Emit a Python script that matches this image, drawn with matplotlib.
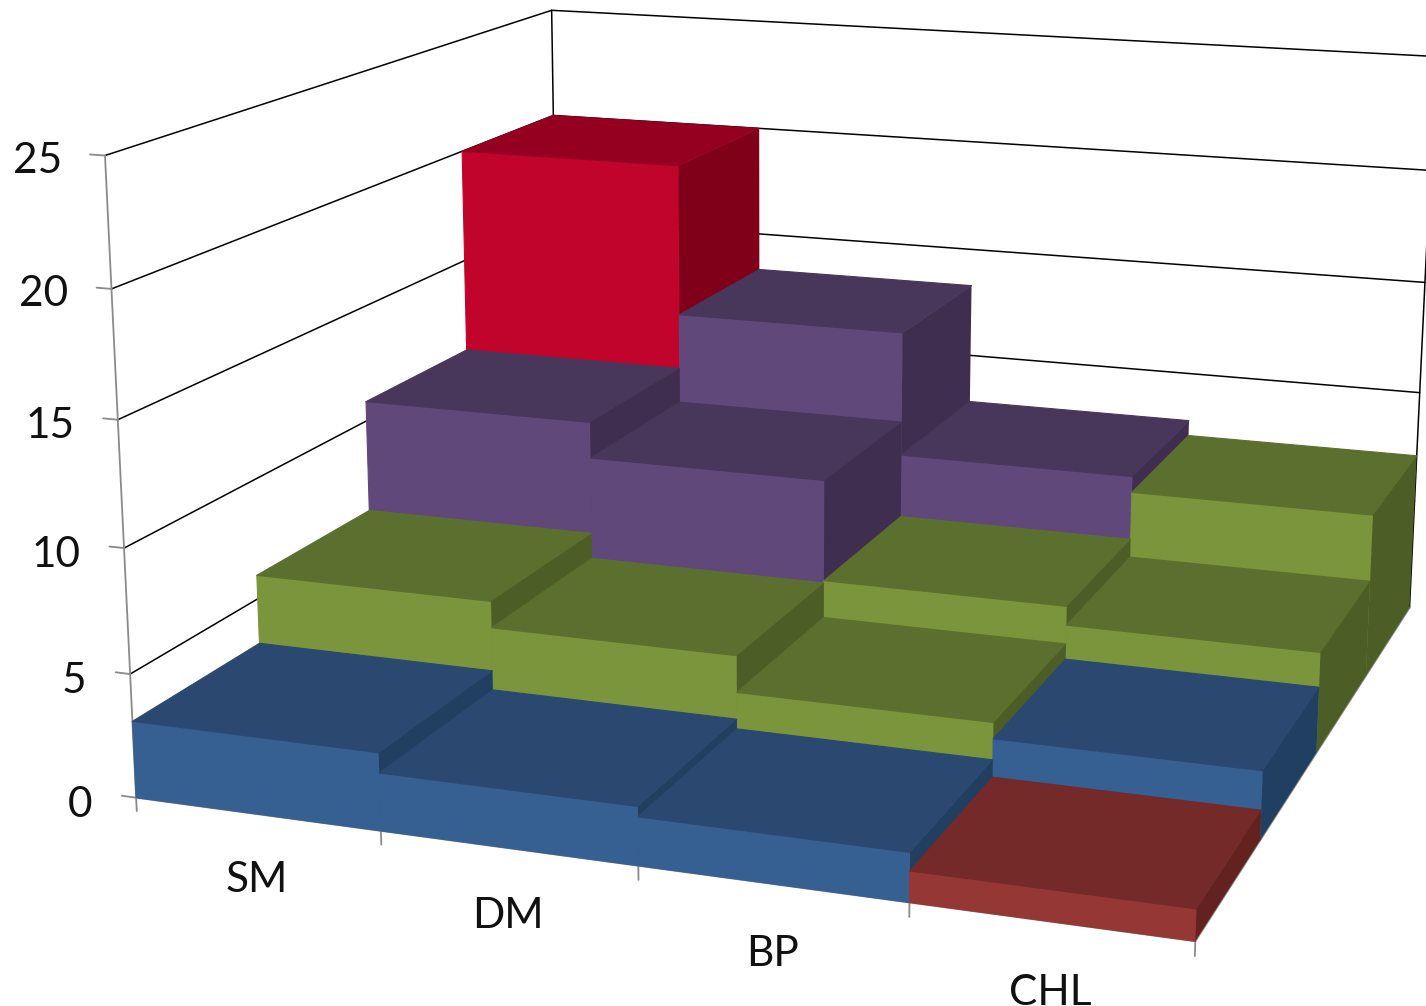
import numpy as np
import matplotlib
matplotlib.use('Agg')
import matplotlib.pyplot as plt
from mpl_toolkits.mplot3d import proj3d

W, H = 1426, 1006

categories = ['SM', 'DM', 'BP', 'CHL']
z_ticks = [0, 5, 10, 15, 20, 25]

# rows run front to back
row0 = [3.1, 2.3, 1.9, 1.2]
row1 = [6.0, 4.9, 3.4, 2.75]
row2 = [10.85, 9.3, 5.0, 4.2]
row3 = [20.0, 13.3, 7.8, 7.1]

row0_colors = ['blue', 'blue', 'blue', 'brick']
row1_colors = ['green', 'green', 'green', 'blue']
row2_colors = ['purple', 'purple', 'green', 'green']
row3_colors = ['red', 'purple', 'purple', 'green']

# front, top, right shades
palette = {
    'blue': ['#366092', '#2b4970', '#213f60'],
    'green': ['#7a953b', '#5b702e', '#4c5e26'],
    'purple': ['#60497a', '#48375b', '#3f2e50'],
    'red': ['#c0042c', '#960020', '#80001a'],
    'brick': ['#953735', '#732a29', '#632220'],
}

# camera: box corners (x, y, z) and where they should land in canvas pixels
cam_world = [
    (0, 0, 0), (1, 0, 0), (2, 0, 0), (3, 0, 0), (4, 0, 0),
    (0, 0, 25), (0, 0, 20), (0, 0, 5), (0, 4, 25),
    (4, 4, 25), (4, 4, 20), (4, 4, 15), (4, 4, 10), (4, 4, 0),
    (0, 3, 20), (0, 4, 20), (1, 3, 20), (1, 4, 20),
    (1, 4, 15), (2, 4, 15), (2, 4, 10),
    (4, 1, 0), (0, 1, 3), (0, 0, 3),
]
cam_pixels = [
    (136, 800), (381, 833), (638, 868), (909, 902), (1195, 940),
    (105, 156), (112, 289.5), (130, 675), (552, 12),
    (1436, 56.2), (1430.5, 171), (1425, 283), (1420, 393.3), (1410, 606),
    (462, 149), (553, 116), (678, 162), (759, 127),
    (759.5, 235.6), (970.5, 250.8), (971, 356.7),
    (1260, 840), (260, 643), (133, 721),
]


def fit_camera(world, pixels):
    # least squares for a 3x4 projective matrix with last entry 1
    rows, rhs = [], []
    for (x, y, z), (u, v) in zip(world, pixels):
        rows.append([x, y, z, 1, 0, 0, 0, 0, -u*x, -u*y, -u*z])
        rows.append([0, 0, 0, 0, x, y, z, 1, -v*x, -v*y, -v*z])
        rhs += [u, v]
    p = np.linalg.lstsq(np.array(rows, float), np.array(rhs, float), rcond=None)[0]
    return np.append(p, 1).reshape(3, 4)


fig = plt.figure(figsize=(W/100, H/100), dpi=100)
# square axes wider than the canvas height, Axes3D always forces a square box
pad = (W - H) / 2
ax = fig.add_axes([0, -pad/H, 1, W/H], projection='3d', computed_zorder=False)
ax.set_axis_off()

x0, x1 = ax.viewLim.intervalx
y0, y1 = ax.viewLim.intervaly
view_pts = [(x0 + u/W*(x1-x0), y1 + (v+pad)/W*(y0-y1)) for u, v in cam_pixels]
P = fit_camera(cam_world, view_pts)
# depth row must stay <= 0 or Line3D clips the points, faces are ordered by hand
M = np.vstack([P[0], P[1], [0, -0.05, 0, 0], P[2]])
ax.get_proj = lambda: M


def seg(p, q, color, lw, z=1):
    ax.plot([p[0], q[0]], [p[1], q[1]], [p[2], q[2]], color=color, lw=lw, zorder=z,
            solid_capstyle='round')


def label(x, y, z, s, ha):
    u, v, _ = proj3d.proj_transform(x, y, z, M)
    ax.text2D(u, v, s, transform=ax.transData, ha=ha, va='center', fontsize=30.5,
              family='Lato', color='#111111', zorder=50)


GREY = '#8a8a8a'
# walls
for t in z_ticks:
    if t > 0:
        seg((0, 0, t), (0, 4, t), 'black', 1.1)
    seg((0, 4, t), (4, 4, t), 'black', 1.1)
    seg((-0.06, 0, t), (0, 0, t), GREY, 1.3)
seg((0, 4, 0), (0, 4, 25), 'black', 1.1)
seg((4, 4, 0), (4, 4, 25), 'black', 1.1)
seg((0, 0, 0), (0, 0, 25), GREY, 1.3)
seg((0, 0, 0), (4, 0, 0), GREY, 1.3)
seg((4, 0, 0), (4, 4, 0), GREY, 1.3)
for i in range(5):
    seg((i, 0, 0), (i, 0, -0.55), GREY, 1.3)

# bars, painted back to front and left to right
heights = [row0, row1, row2, row3]
colors = [row0_colors, row1_colors, row2_colors, row3_colors]
clear = (0, 0, 0, 0)
order = 10
for r in range(3, -1, -1):
    for c in range(4):
        front, top, right = [matplotlib.colors.to_rgba(v) for v in palette[colors[r][c]]]
        faces = [clear, top, front, clear, clear, right]
        # no outline on the side face, it would leave a dark seam next to the front
        edges = [clear, top, front, clear, clear, clear]
        ax.bar3d(c, r, 0, 1, 1, heights[r][c], color=faces, shade=False,
                 edgecolors=edges, linewidths=0.8, zorder=order)
        order += 1

for t in z_ticks:
    label(-0.189 + 0.0006*t, 0, t*1.01 - 0.55, str(t), 'right')
for i, name in enumerate(categories):
    label(i + 0.49 + 0.005*i, 0, -2.7, name, 'center')

fig.savefig('out.png', dpi=100)
